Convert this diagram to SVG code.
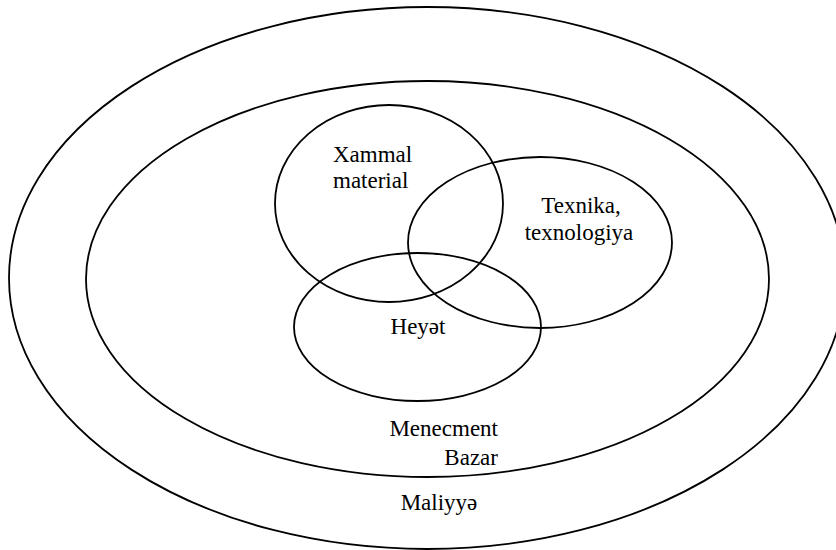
<svg xmlns="http://www.w3.org/2000/svg" width="836" height="550" viewBox="0 0 836 550">
<style>
.sh{fill:none;stroke:#000;stroke-width:1.8}
.t{font-family:"Liberation Serif","Times New Roman",serif;font-size:23px;fill:#000}
</style>
<rect width="836" height="550" fill="#fff"/>
<g id="maliyye">
<ellipse class="sh" cx="427" cy="278" rx="418" ry="271"/>
<text class="t" x="439" y="510" text-anchor="middle">Maliyyə</text>
</g>
<g id="bazar-menecment">
<ellipse class="sh" cx="427.5" cy="279" rx="341.5" ry="198"/>
<text class="t" x="498" y="436" text-anchor="end">Menecment</text>
<text class="t" x="498" y="465" text-anchor="end">Bazar</text>
</g>
<g id="xammal">
<ellipse class="sh" cx="389" cy="203.5" rx="114" ry="98.5"/>
<text class="t" x="333" y="162">Xammal</text>
<text class="t" x="333" y="188">material</text>
</g>
<g id="texnika">
<ellipse class="sh" cx="540" cy="242.5" rx="132" ry="85.5"/>
<text class="t" x="581" y="213" text-anchor="middle">Texnika,</text>
<text class="t" x="579" y="240" text-anchor="middle">texnologiya</text>
</g>
<g id="heyet">
<ellipse class="sh" cx="417.5" cy="327" rx="123.5" ry="74"/>
<text class="t" x="418" y="334" text-anchor="middle">Heyət</text>
</g>
<g id="connectors"></g>
</svg>
